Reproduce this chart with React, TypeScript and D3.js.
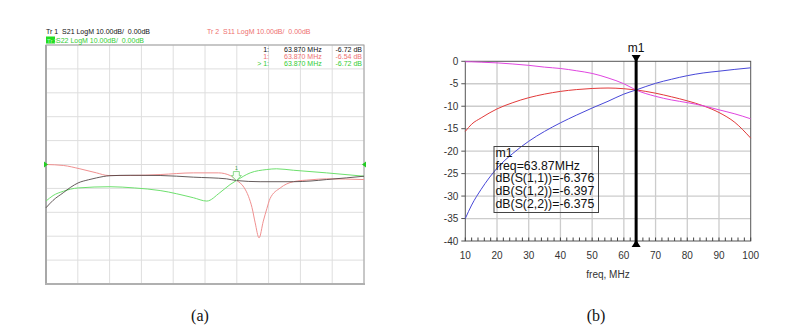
import React from 'react';
import * as d3 from 'd3';

// ---- (a) network analyzer measurement, 10 dB/div, ref 0 dB ----
const measS21Freq = [10, 12, 14.9, 17, 19.1, 22, 24.3, 28.1, 33.8, 42.3, 51.7, 61.1, 63.87, 70.6, 73.4, 80, 85, 89.4, 95, 100];
const measS21 = [-18.1, -15, -11.8, -9.5, -7.7, -6.4, -5.6, -4.7, -4.5, -4.6, -5.3, -6.0, -6.72, -7.2, -7.2, -7.2, -6.9, -6.3, -5.6, -4.9];

const measS11Freq = [10, 14.9, 19.6, 24.3, 27.6, 33.8, 42.3, 51.7, 58.8, 62.1, 63.87, 66, 67.3, 68.3, 69.2, 70.3, 71.5, 72.5, 73.4, 76.3, 80, 85, 89.4, 100];
const measS11 = [0, -0.4, -1.8, -3.5, -4.6, -4.6, -4.2, -3.5, -3.5, -4.6, -6.54, -9.5, -13.3, -18, -24.4, -30.7, -23.7, -18.5, -14.3, -9.8, -7.2, -6.4, -6.0, -6.3];

const measS22Freq = [10, 12, 14.9, 19.1, 28.1, 35, 42.3, 51.7, 55.5, 59.2, 62.1, 63.87, 67.8, 72.5, 75.3, 80, 89.4, 100];
const measS22 = [-15.3, -13, -11.2, -9.8, -9.3, -9.8, -10.9, -13.9, -15.3, -11.8, -8.4, -6.72, -3.5, -2.1, -1.8, -2.4, -3.5, -4.9];

const traceHeaders = ['Tr 1  S21 LogM 10.00dB/  0.00dB', 'Tr 2  S11 LogM 10.00dB/  0.00dB', 'S22 LogM 10.00dB/  0.00dB'];
const readoutPrefix = ['1:', '1:', '> 1:'];
const readoutFreq = ['63.870 MHz', '63.870 MHz', '63.870 MHz'];
const readoutValue = ['-6.72 dB', '-6.54 dB', '-6.72 dB'];

// ---- (b) simulation ----
const simFreq = [10, 12, 15, 20, 25, 30, 35, 40, 45, 50, 55, 60, 63.87, 70, 75, 80, 85, 90, 95, 100];
const simS11 = [-15.6, -14, -12.6, -10.6, -9.2, -8.1, -7.3, -6.7, -6.3, -6.05, -5.95, -6.1, -6.376, -7.1, -7.9, -8.8, -9.9, -11.4, -13.6, -17.1];
const simS12 = [-0.1, -0.12, -0.2, -0.35, -0.6, -0.9, -1.3, -1.6, -2.1, -2.7, -3.7, -5.0, -6.397, -7.8, -8.6, -9.2, -9.9, -10.8, -11.7, -12.8];
const simS22 = [-35, -32, -28.5, -23.8, -20.5, -17.8, -15.6, -13.7, -12, -10.4, -8.9, -7.3, -6.375, -4.9, -4.0, -3.2, -2.6, -2.2, -1.8, -1.45];

const freqTicks = [10, 20, 30, 40, 50, 60, 70, 80, 90, 100];
const dbTicks = [0, -5, -10, -15, -20, -25, -30, -35, -40];
const markerFreq = 63.87;
const markerLines = ['m1', 'freq=63.87MHz', 'dB(S(1,1))=-6.376', 'dB(S(1,2))=-6.397', 'dB(S(2,2))=-6.375'];

const sans = 'Arial, "Liberation Sans", sans-serif';
const serif = '"Liberation Serif", "Times New Roman", serif';

function PanelA() {
  const x = d3.scaleLinear().domain([10, 100]).range([46, 364]);
  const y = d3.scaleLinear().domain([-50, 50]).range([284, 45]);
  const mk = (fs: number[], vs: number[]) =>
    d3.line<number>().x((_, i) => x(fs[i])).y(v => y(v)).curve(d3.curveMonotoneX)(vs) || '';
  const gx = d3.range(10, 101, 9);
  const gy = d3.range(-50, 51, 10);
  const mx = x(markerFreq);
  const my = y(-6.72);
  return (
    <g>
      {gx.map(f => (
        <line key={'vx' + f} x1={x(f)} x2={x(f)} y1={45} y2={284} stroke="#dedede" strokeWidth={1} />
      ))}
      {gy.map(v => (
        <line key={'hy' + v} x1={46} x2={364} y1={y(v)} y2={y(v)} stroke="#dedede" strokeWidth={1} />
      ))}
      <rect x={46} y={45} width={318} height={239} fill="none" stroke="#a0a0a0" strokeWidth={1} />
      <line x1={46} x2={46} y1={45} y2={285} stroke="#a8a8a8" strokeWidth={2} />
      <line x1={45} x2={365} y1={284} y2={284} stroke="#b0b0b0" strokeWidth={2} />

      <path d={mk(measS22Freq, measS22)} fill="none" stroke="#6ee06e" strokeWidth={1} />
      <path d={mk(measS11Freq, measS11)} fill="none" stroke="#f09090" strokeWidth={1} />
      <path d={mk(measS21Freq, measS21)} fill="none" stroke="#4a4040" strokeWidth={1} opacity={0.85} />

      {/* reference level markers */}
      <path d={`M44,${y(0) - 3} L48,${y(0)} L44,${y(0) + 3} Z`} fill="#22cc22" />
      <path d={`M366,${y(0) - 3} L362,${y(0)} L366,${y(0) + 3} Z`} fill="#22cc22" />

      {/* marker 1 */}
      <path
        d={`M${mx - 3},${my - 9} L${mx + 3},${my - 9} L${mx + 3},${my - 5} L${mx + 5},${my - 5} L${mx},${my} L${mx - 5},${my - 5} L${mx - 3},${my - 5} Z`}
        fill="#f4fff4" stroke="#70d070" strokeWidth={0.8}
      />
      <text x={mx} y={my - 10.5} fontSize={5} textAnchor="middle" fill="#40a040" fontFamily={sans}>1</text>

      {/* headers */}
      <g fontFamily={sans} fontSize={7}>
        <text x={46} y={34} fill="#111" xmlSpace="preserve">{traceHeaders[0]}</text>
        <text x={207} y={34} fill="#ee7070" xmlSpace="preserve">{traceHeaders[1]}</text>
        <rect x={46} y={36.5} width={9} height={7} fill="#22dd22" />
        <text x={47} y={42.5} fill="#b8f8b8" fontSize={6}>Tr 3</text>
        <text x={56} y={42.5} fill="#33cc33" xmlSpace="preserve">{traceHeaders[2]}</text>
      </g>

      {/* readout table */}
      <g fontFamily={sans} fontSize={7}>
        {readoutPrefix.map((p, i) => {
          const col = ['#111', '#ee7070', '#33cc33'][i];
          const by = 51.5 + i * 7;
          return (
            <g key={'ro' + i} fill={col}>
              <text x={269} y={by} textAnchor="end">{p}</text>
              <text x={284} y={by}>{readoutFreq[i]}</text>
              <text x={362} y={by} textAnchor="end">{readoutValue[i]}</text>
            </g>
          );
        })}
      </g>
    </g>
  );
}

function PanelB() {
  const x = d3.scaleLinear().domain([10, 100]).range([465.3, 750.7]);
  const y = d3.scaleLinear().domain([-40, 0]).range([241, 61.3]);
  const mk = (vs: number[]) =>
    d3.line<number>().x((_, i) => x(simFreq[i])).y(v => y(v)).curve(d3.curveMonotoneX)(vs) || '';
  const minor = d3.range(10, 101, 2);
  const mx = x(markerFreq);
  return (
    <g fontFamily={sans}>
      {freqTicks.slice(1, -1).map(f => (
        <line key={'gx' + f} x1={x(f)} x2={x(f)} y1={y(0)} y2={y(-40)} stroke="#cccccc" strokeWidth={1.3} />
      ))}
      {dbTicks.slice(1, -1).map(v => (
        <line key={'gy' + v} x1={x(10)} x2={x(100)} y1={y(v)} y2={y(v)} stroke="#cccccc" strokeWidth={1.3} />
      ))}
      <rect x={x(10)} y={y(0)} width={x(100) - x(10)} height={y(-40) - y(0)} fill="none" stroke="#555" strokeWidth={1} />

      {dbTicks.map(v => (
        <g key={'ty' + v}>
          <line x1={x(10) - 4} x2={x(10)} y1={y(v)} y2={y(v)} stroke="#555" />
          <text x={x(10) - 7} y={y(v) + 3.5} fontSize={10} textAnchor="end" fill="#333">{v}</text>
        </g>
      ))}
      {minor.map(f => (
        <line key={'mt' + f} x1={x(f)} x2={x(f)} y1={y(-40)} y2={y(-40) - 3.5} stroke="#444" strokeWidth={1} />
      ))}
      {freqTicks.map(f => (
        <text key={'tx' + f} x={x(f)} y={259} fontSize={10} textAnchor="middle" fill="#333">{f}</text>
      ))}
      <text x={608} y={278} fontSize={10} textAnchor="middle" fill="#333">freq, MHz</text>

      <path d={mk(simS11)} fill="none" stroke="#e23a3a" strokeWidth={1} />
      <path d={mk(simS12)} fill="none" stroke="#e045e0" strokeWidth={1} />
      <path d={mk(simS22)} fill="none" stroke="#4848d8" strokeWidth={1} />

      {/* marker */}
      <line x1={mx} x2={mx} y1={57} y2={246} stroke="#000" strokeWidth={3} />
      <path d={`M${mx - 4.5},55 L${mx + 4.5},55 L${mx},62 Z`} fill="#000" />
      <path d={`M${mx - 4.5},247 L${mx + 4.5},247 L${mx},240 Z`} fill="#000" />
      <text x={mx} y={52} fontSize={12} textAnchor="middle" fill="#111">m1</text>

      <rect x={494} y={146.5} width={104.5} height={66} fill="none" stroke="#444" strokeWidth={1} />
      {markerLines.map((t, i) => (
        <text key={'ml' + i} x={495.5} y={157 + i * 12.7} fontSize={12.3} fill="#111">{t}</text>
      ))}
    </g>
  );
}

export default function App() {
  return (
    <div style={{ position: 'absolute', left: 0, top: 0, background: '#fff' }}>
      <svg width={786} height={330} viewBox="0 0 786 330" style={{ display: 'block' }}>
        <rect width={786} height={330} fill="#fff" />
        <PanelA />
        <PanelB />
        <text x={200} y={321} fontSize={16} textAnchor="middle" fontFamily={serif} fill="#111">(a)</text>
        <text x={596} y={321} fontSize={16} textAnchor="middle" fontFamily={serif} fill="#111">(b)</text>
      </svg>
    </div>
  );
}
